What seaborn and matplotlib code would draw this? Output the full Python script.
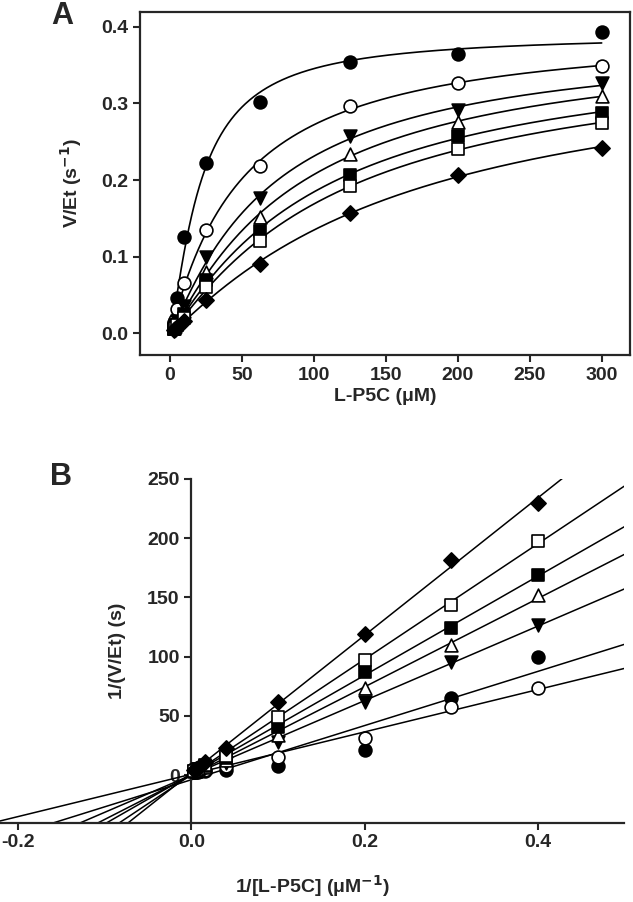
import numpy as np
import matplotlib
matplotlib.use('Agg')
import matplotlib.pyplot as plt
import seaborn as sns

# --- dados ---
# concentracao de L-P5C (uM)
conc = np.array([2.5, 3.33, 5, 10, 25, 62.5, 125, 200, 300])

# V/Et (s-1) para cada serie
v_filled_circle = [0.0100, 0.0154, 0.0464, 0.126, 0.222, 0.302, 0.354, 0.364, 0.393]
v_open_circle = [0.0136, 0.0175, 0.0320, 0.0652, 0.135, 0.218, 0.297, 0.326, 0.349]
v_filled_tri = [0.00789, 0.0105, 0.0162, 0.0358, 0.100, 0.176, 0.257, 0.291, 0.326]
v_open_tri = [0.00658, 0.0091, 0.0136, 0.0296, 0.0804, 0.152, 0.234, 0.276, 0.309]
v_filled_sq = [0.00592, 0.00807, 0.0115, 0.0246, 0.0695, 0.134, 0.207, 0.257, 0.288]
v_open_sq = [0.00505, 0.00696, 0.0103, 0.0204, 0.0608, 0.120, 0.192, 0.241, 0.274]
v_diamond = [0.00436, 0.00551, 0.00842, 0.0162, 0.0434, 0.0904, 0.157, 0.207, 0.242]

xticks_a = [0, 50, 100, 150, 200, 250, 300]
yticks_a = [0.0, 0.1, 0.2, 0.3, 0.4]
xticks_b = [-0.2, 0.0, 0.2, 0.4]
yticks_b = [0, 50, 100, 150, 200, 250]

# estilo dos marcadores
series = [
    (v_filled_circle, 'o', 'black', 85),
    (v_open_circle, 'o', 'white', 85),
    (v_filled_tri, 'v', 'black', 85),
    (v_open_tri, '^', 'white', 85),
    (v_filled_sq, 's', 'black', 70),
    (v_open_sq, 's', 'white', 70),
    (v_diamond, 'D', 'black', 60),
]


def hill_fit(s, v):
    # ajuste de Hill por busca em grade (Vmax resolvido por minimos quadrados)
    n = np.arange(0.8, 2.51, 0.02)[:, None, None]
    k = np.arange(2, 300, 0.5)[None, :, None]
    f = s ** n / (k ** n + s ** n)
    vmax = (f * v).sum(-1) / (f * f).sum(-1)
    err = ((v - vmax[..., None] * f) ** 2).sum(-1)
    i, j = np.unravel_index(err.argmin(), err.shape)
    return vmax[i, j], k[0, j, 0], n[i, 0, 0]


sns.set_style('ticks')
plt.rcParams['font.family'] = ['Liberation Sans', 'DejaVu Sans']
plt.rcParams['font.weight'] = 'bold'
plt.rcParams['axes.labelweight'] = 'bold'
plt.rcParams['axes.unicode_minus'] = False
plt.rcParams['mathtext.default'] = 'bf'

fig = plt.figure(figsize=(6.33, 9.02), dpi=100)

# --- painel A: Michaelis-Menten ---
axA = fig.add_axes([0.2212, 0.6064, 0.7741, 0.3803])
s_grid = np.linspace(0, 300, 500)
for v, m, fc, sz in series:
    vmax, km, h = hill_fit(conc, np.array(v))
    sns.lineplot(x=s_grid, y=vmax * s_grid ** h / (km ** h + s_grid ** h),
                 color='black', linewidth=1.2, ax=axA)
for v, m, fc, sz in series:
    sns.scatterplot(x=conc, y=v, marker=m, color=fc, edgecolor='black',
                    linewidth=1.2, s=sz, ax=axA, zorder=3)

axA.set_xlim(-20.85, 319.7)
axA.set_ylim(-0.0283, 0.4192)
axA.set_xticks(xticks_a)
axA.set_yticks(yticks_a)
axA.set_yticklabels([f'{t:.1f}' for t in yticks_a])
axA.set_xlabel('L-P5C (\u03bcM)', fontsize=14, labelpad=3)
axA.set_ylabel('V/Et (s$^{-1}$)', fontsize=14, labelpad=12)
for sp in axA.spines.values():
    sp.set_linewidth(1.6)
axA.tick_params(labelsize=14, width=1.5, length=5, direction='out')

# --- painel B: Lineweaver-Burk ---
axB = fig.add_axes([0.0, 0.0881, 0.9861, 0.3809])
axB.set_xlim(-0.2212, 0.5)
axB.set_ylim(-40, 250)
for v, m, fc, sz in series:
    sns.regplot(x=1 / conc, y=1 / np.array(v), ax=axB, scatter=False, ci=None,
                truncate=False, color='black', line_kws={'linewidth': 1.1})
for v, m, fc, sz in series:
    sns.scatterplot(x=1 / conc, y=1 / np.array(v), marker=m, color=fc,
                    edgecolor='black', linewidth=1.2, s=sz, ax=axB, zorder=3)

axB.set_xlim(-0.2212, 0.5)
axB.set_ylim(-40, 250)
axB.spines['left'].set_position(('data', 0))
axB.spines['top'].set_visible(False)
axB.spines['right'].set_visible(False)
for sp in axB.spines.values():
    sp.set_linewidth(1.6)
axB.set_xticks(xticks_b)
axB.set_xticklabels([f'{t:.1f}' for t in xticks_b])
axB.set_yticks(yticks_b)
axB.set_xlabel('1/[L-P5C] (\u03bcM$^{-1}$)', fontsize=14, labelpad=16)
axB.set_ylabel('1/(V/Et) (s)', fontsize=14, labelpad=15)
axB.tick_params(labelsize=14, width=1.5, length=5, direction='out')

fig.text(0.099, 1 - 23.5 / 902, 'A', fontsize=22, fontweight='bold', ha='center', va='baseline')
fig.text(0.096, 1 - 485 / 902, 'B', fontsize=22, fontweight='bold', ha='center', va='baseline')

fig.savefig('out.png', dpi=100)
